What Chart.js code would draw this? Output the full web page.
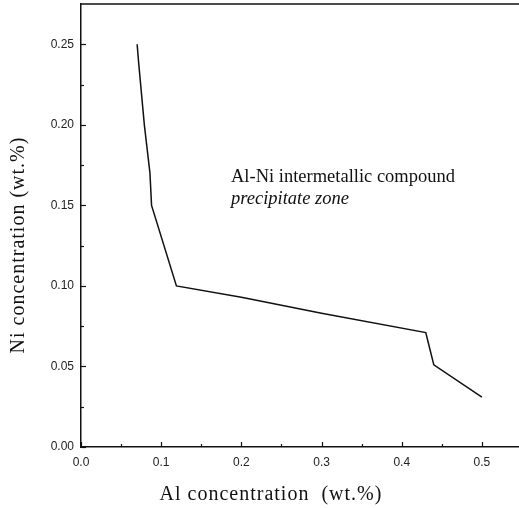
<!DOCTYPE html>
<html>
<head>
<meta charset="utf-8">
<script src="https://cdn.jsdelivr.net/npm/chart.js@4.4.1/dist/chart.umd.min.js"></script>
<style>
  html, body { margin: 0; padding: 0; background: #fff; overflow: hidden; width: 519px; height: 508px; }
  #wrap { position: absolute; left: 0; top: 0; width: 524px; height: 508px; }
</style>
</head>
<body>
<div id="wrap"><canvas id="c" width="524" height="508"></canvas></div>
<script>
// Data
const alConcentration = [0.070, 0.072, 0.079, 0.086, 0.088, 0.119, 0.200, 0.300, 0.430, 0.435, 0.440, 0.500];
const niConcentration = [0.250, 0.238, 0.200, 0.170, 0.150, 0.100, 0.093, 0.083, 0.071, 0.061, 0.051, 0.031];

const xTitle = "Al concentration  (wt.%)";
const yTitle = "Ni concentration (wt.%)";
const noteLine1 = "Al-Ni intermetallic compound";
const noteLine2 = "precipitate zone";

const xMajorTicks = [0.0, 0.1, 0.2, 0.3, 0.4, 0.5];
const xMinorTicks = [0.05, 0.15, 0.25, 0.35, 0.45];
const yMajorTicks = [0.00, 0.05, 0.10, 0.15, 0.20, 0.25];
const yMinorTicks = [0.025, 0.075, 0.125, 0.175, 0.225];

const points = alConcentration.map((x, i) => ({ x: x, y: niConcentration[i] }));

const decor = {
  id: 'decor',
  afterDraw(chart) {
    const ctx = chart.ctx;
    const a = chart.chartArea;
    const xs = chart.scales.x, ys = chart.scales.y;
    ctx.save();
    ctx.strokeStyle = '#111';
    // top border
    ctx.lineWidth = 1.5;
    ctx.beginPath();
    ctx.moveTo(a.left, a.top);
    ctx.lineTo(a.right, a.top);
    ctx.stroke();
    // inward ticks
    ctx.lineWidth = 1.2;
    const tick = (vals, len, axis) => {
      vals.forEach(v => {
        ctx.beginPath();
        if (axis === 'x') {
          const p = Math.round(xs.getPixelForValue(v)) + 0.5;
          ctx.moveTo(p, a.bottom); ctx.lineTo(p, a.bottom - len);
        } else {
          const p = Math.round(ys.getPixelForValue(v)) + 0.5;
          ctx.moveTo(a.left, p); ctx.lineTo(a.left + len, p);
        }
        ctx.stroke();
      });
    };
    tick(xMajorTicks, 5, 'x'); tick(xMinorTicks, 3, 'x');
    tick(yMajorTicks, 5, 'y'); tick(yMinorTicks, 3, 'y');

    // annotation
    ctx.fillStyle = '#111';
    ctx.textBaseline = 'alphabetic';
    ctx.textAlign = 'left';
    ctx.font = '18.5px "Liberation Serif", serif';
    ctx.fillText(noteLine1, 231, 182);
    ctx.font = 'italic 18.5px "Liberation Serif", serif';
    ctx.fillText(noteLine2, 231, 204);

    // axis titles
    ctx.font = '20px "Liberation Serif", serif';
    try { ctx.letterSpacing = '1px'; } catch (e) {}
    ctx.textAlign = 'center';
    ctx.textBaseline = 'middle';
    ctx.fillText(xTitle, 271, 495);
    ctx.translate(19, 245);
    ctx.rotate(-Math.PI / 2);
    ctx.fillText(yTitle, 0, 0);
    ctx.restore();
  }
};

new Chart(document.getElementById('c'), {
  type: 'scatter',
  data: {
    datasets: [{
      data: points,
      showLine: true,
      borderColor: '#111',
      borderWidth: 1.5,
      pointRadius: 0,
      fill: false,
      tension: 0
    }]
  },
  options: {
    responsive: false,
    animation: false,
    layout: { padding: { top: 4, right: 2, left: 0, bottom: 0 } },
    plugins: { legend: { display: false }, tooltip: { enabled: false } },
    scales: {
      x: {
        type: 'linear',
        min: 0, max: 0.55,
        afterFit(s) { s.height = 61; s.paddingLeft = 0; s.paddingRight = 0; },
        grid: { display: false, drawTicks: false },
        border: { display: true, color: '#111', width: 1.5 },
        ticks: {
          stepSize: 0.1, includeBounds: false, padding: 8,
          color: '#222',
          font: { family: '"Liberation Sans", Arial, sans-serif', size: 12 },
          callback: v => Number(v).toFixed(1)
        }
      },
      y: {
        type: 'linear',
        min: 0, max: 0.275,
        afterFit(s) { s.width = 81; s.paddingTop = 0; s.paddingBottom = 0; },
        grid: { display: false, drawTicks: false },
        border: { display: true, color: '#111', width: 1.5 },
        ticks: {
          stepSize: 0.05, includeBounds: false, padding: 7,
          color: '#222',
          font: { family: '"Liberation Sans", Arial, sans-serif', size: 12 },
          callback: v => Number(v).toFixed(2)
        }
      }
    }
  },
  plugins: [decor]
});
</script>
</body>
</html>
